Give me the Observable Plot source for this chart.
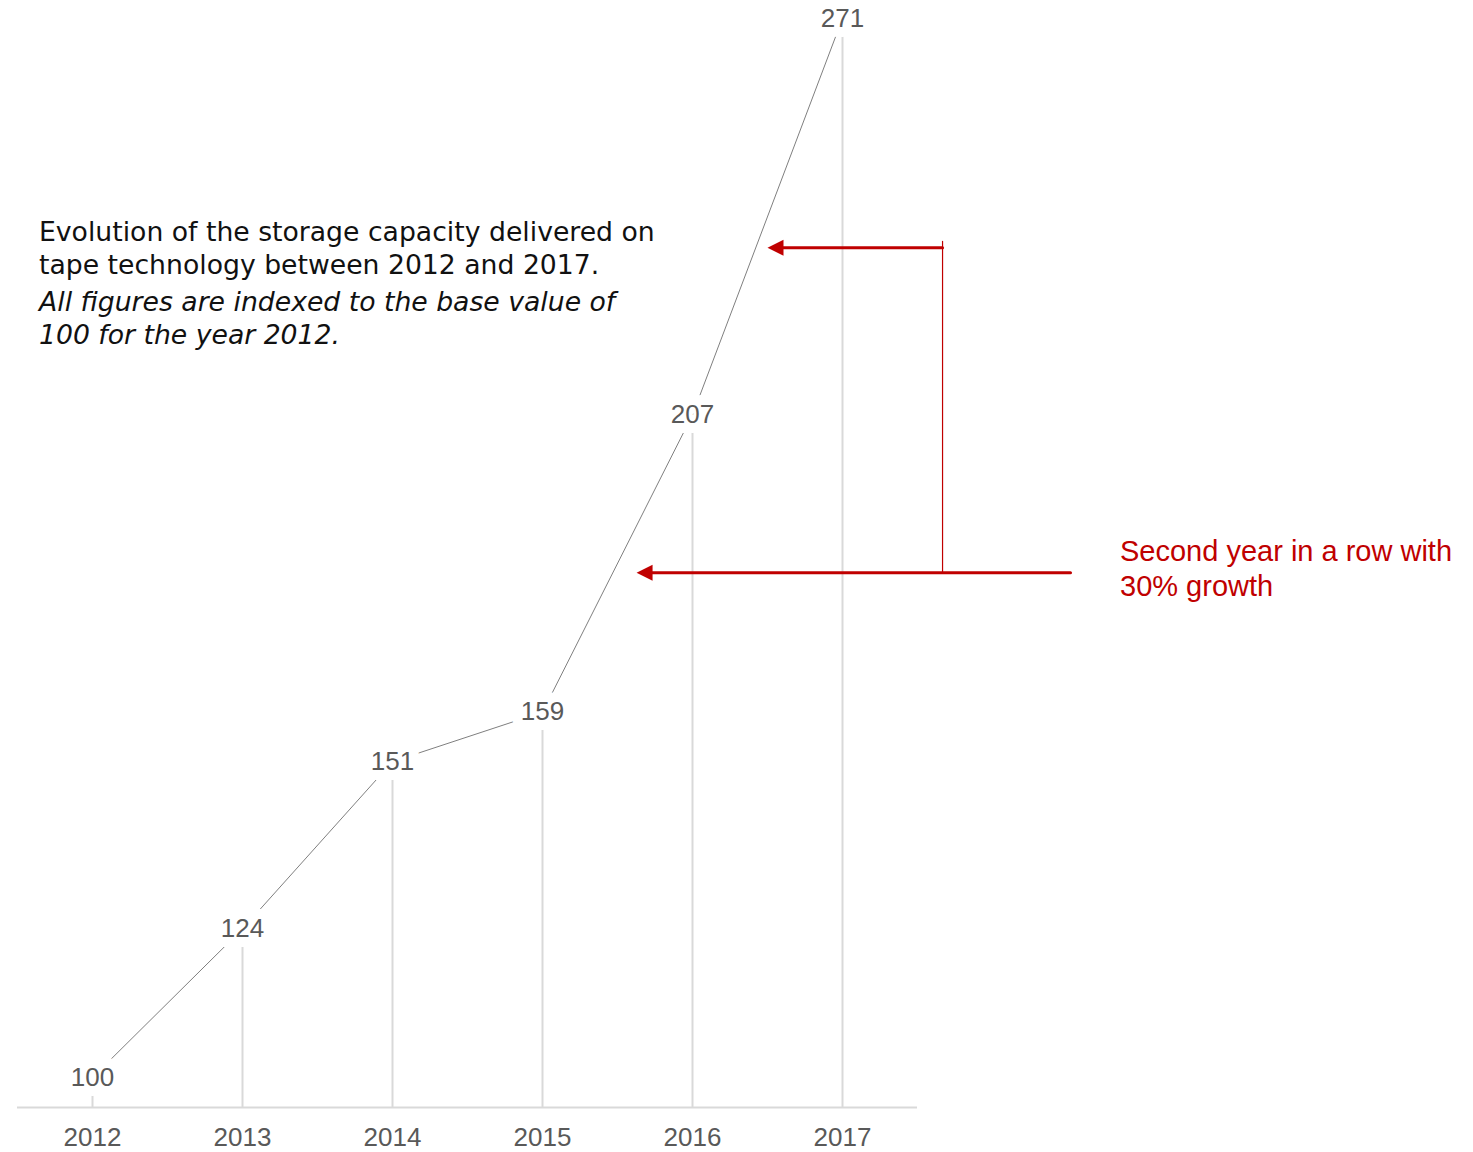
<!DOCTYPE html>
<html>
<head>
<meta charset="utf-8">
<script src="https://cdn.jsdelivr.net/npm/d3@7"></script>
<script src="https://cdn.jsdelivr.net/npm/@observablehq/plot@0.6"></script>
<style>
  body { margin: 0; background: #fff; }
  #wrap { position: relative; width: 1473px; height: 1152px; }
  #title { position: absolute; left: 39px; top: 216px; font-family: "DejaVu Sans Condensed", "DejaVu Sans", sans-serif; font-size: 26px; line-height: 33px; color: #111; white-space: nowrap; transform: scaleX(1.14); transform-origin: left top; }
  #title .sub { font-style: italic; margin-top: 4px; }
  #note { position: absolute; left: 1120px; top: 534px; font-family: "Liberation Sans", Arial, sans-serif; font-size: 29px; line-height: 35px; color: #c00000; white-space: nowrap; }
</style>
</head>
<body>
<div id="wrap">
  <div id="chart"></div>
  <div id="title">
    <div>Evolution of the storage capacity delivered on<br>tape technology between 2012 and 2017.</div>
    <div class="sub">All figures are indexed to the base value of<br>100 for the year 2012.</div>
  </div>
  <div id="note">Second year in a row with<br>30% growth</div>
</div>
<script>
// Data
const years = [2012, 2013, 2014, 2015, 2016, 2017];
const values = [100, 124, 151, 159, 207, 271];

// Annotation (data coordinates: year, index value)
const arrowYears = [[2017.667, 2016.5], [2018.52, 2015.627]];
const arrowValues = [234.0, 181.5];
const connectorYear = 2017.667;

const data = years.map((y, i) => ({year: y, value: values[i]}));
const yMin = 95.156;

const arrows = arrowValues.flatMap((v, i) => [
  {id: i, x: arrowYears[i][0], y: v},
  {id: i, x: arrowYears[i][1] + 0.08, y: v}
]);
const tips = arrowValues.map((v, i) => ({x: arrowYears[i][1], y: v}));
const connector = [{x: connectorYear, y: arrowValues[0] + 1}, {x: connectorYear, y: arrowValues[1]}];

const leftTriangle = {
  draw(context) {
    context.moveTo(0, 0);
    context.lineTo(16, -8);
    context.lineTo(16, 8);
    context.closePath();
  }
};

const chart = Plot.plot({
  width: 1473,
  height: 1152,
  marginLeft: 17,
  marginRight: 556,
  marginTop: 18,
  marginBottom: 45,
  style: {fontFamily: "'Liberation Sans', Arial, sans-serif", background: "white"},
  x: {type: "linear", domain: [2011.5, 2017.5], axis: null},
  y: {domain: [yMin, 271], axis: null},
  marks: [
    Plot.ruleX(data, {x: "year", y1: yMin, y2: "value", stroke: "#d9d9d9", strokeWidth: 2}),
    Plot.ruleY([yMin], {stroke: "#d9d9d9", strokeWidth: 2}),
    Plot.line(data, {x: "year", y: "value", stroke: "#7f7f7f", strokeWidth: 1}),
    Plot.text(data, {x: "year", y: "value", text: d => String(d.value), fill: "#595959", fontSize: 26,
      stroke: "white", strokeWidth: 20, strokeLinejoin: "round"}),
    Plot.axisX({ticks: years, tickFormat: d => String(d), tickSize: 0, tickPadding: 20, fontSize: 26, fill: "#595959"}),
    Plot.line(connector, {x: "x", y: "y", stroke: "#c00000", strokeWidth: 1.2}),
    Plot.line(arrows, {x: "x", y: "y", z: "id", stroke: "#c00000", strokeWidth: 3}),
    Plot.dot(tips, {x: "x", y: "y", symbol: leftTriangle, fill: "#c00000", stroke: "none"})
  ]
});
document.getElementById("chart").appendChild(chart);
</script>
</body>
</html>
